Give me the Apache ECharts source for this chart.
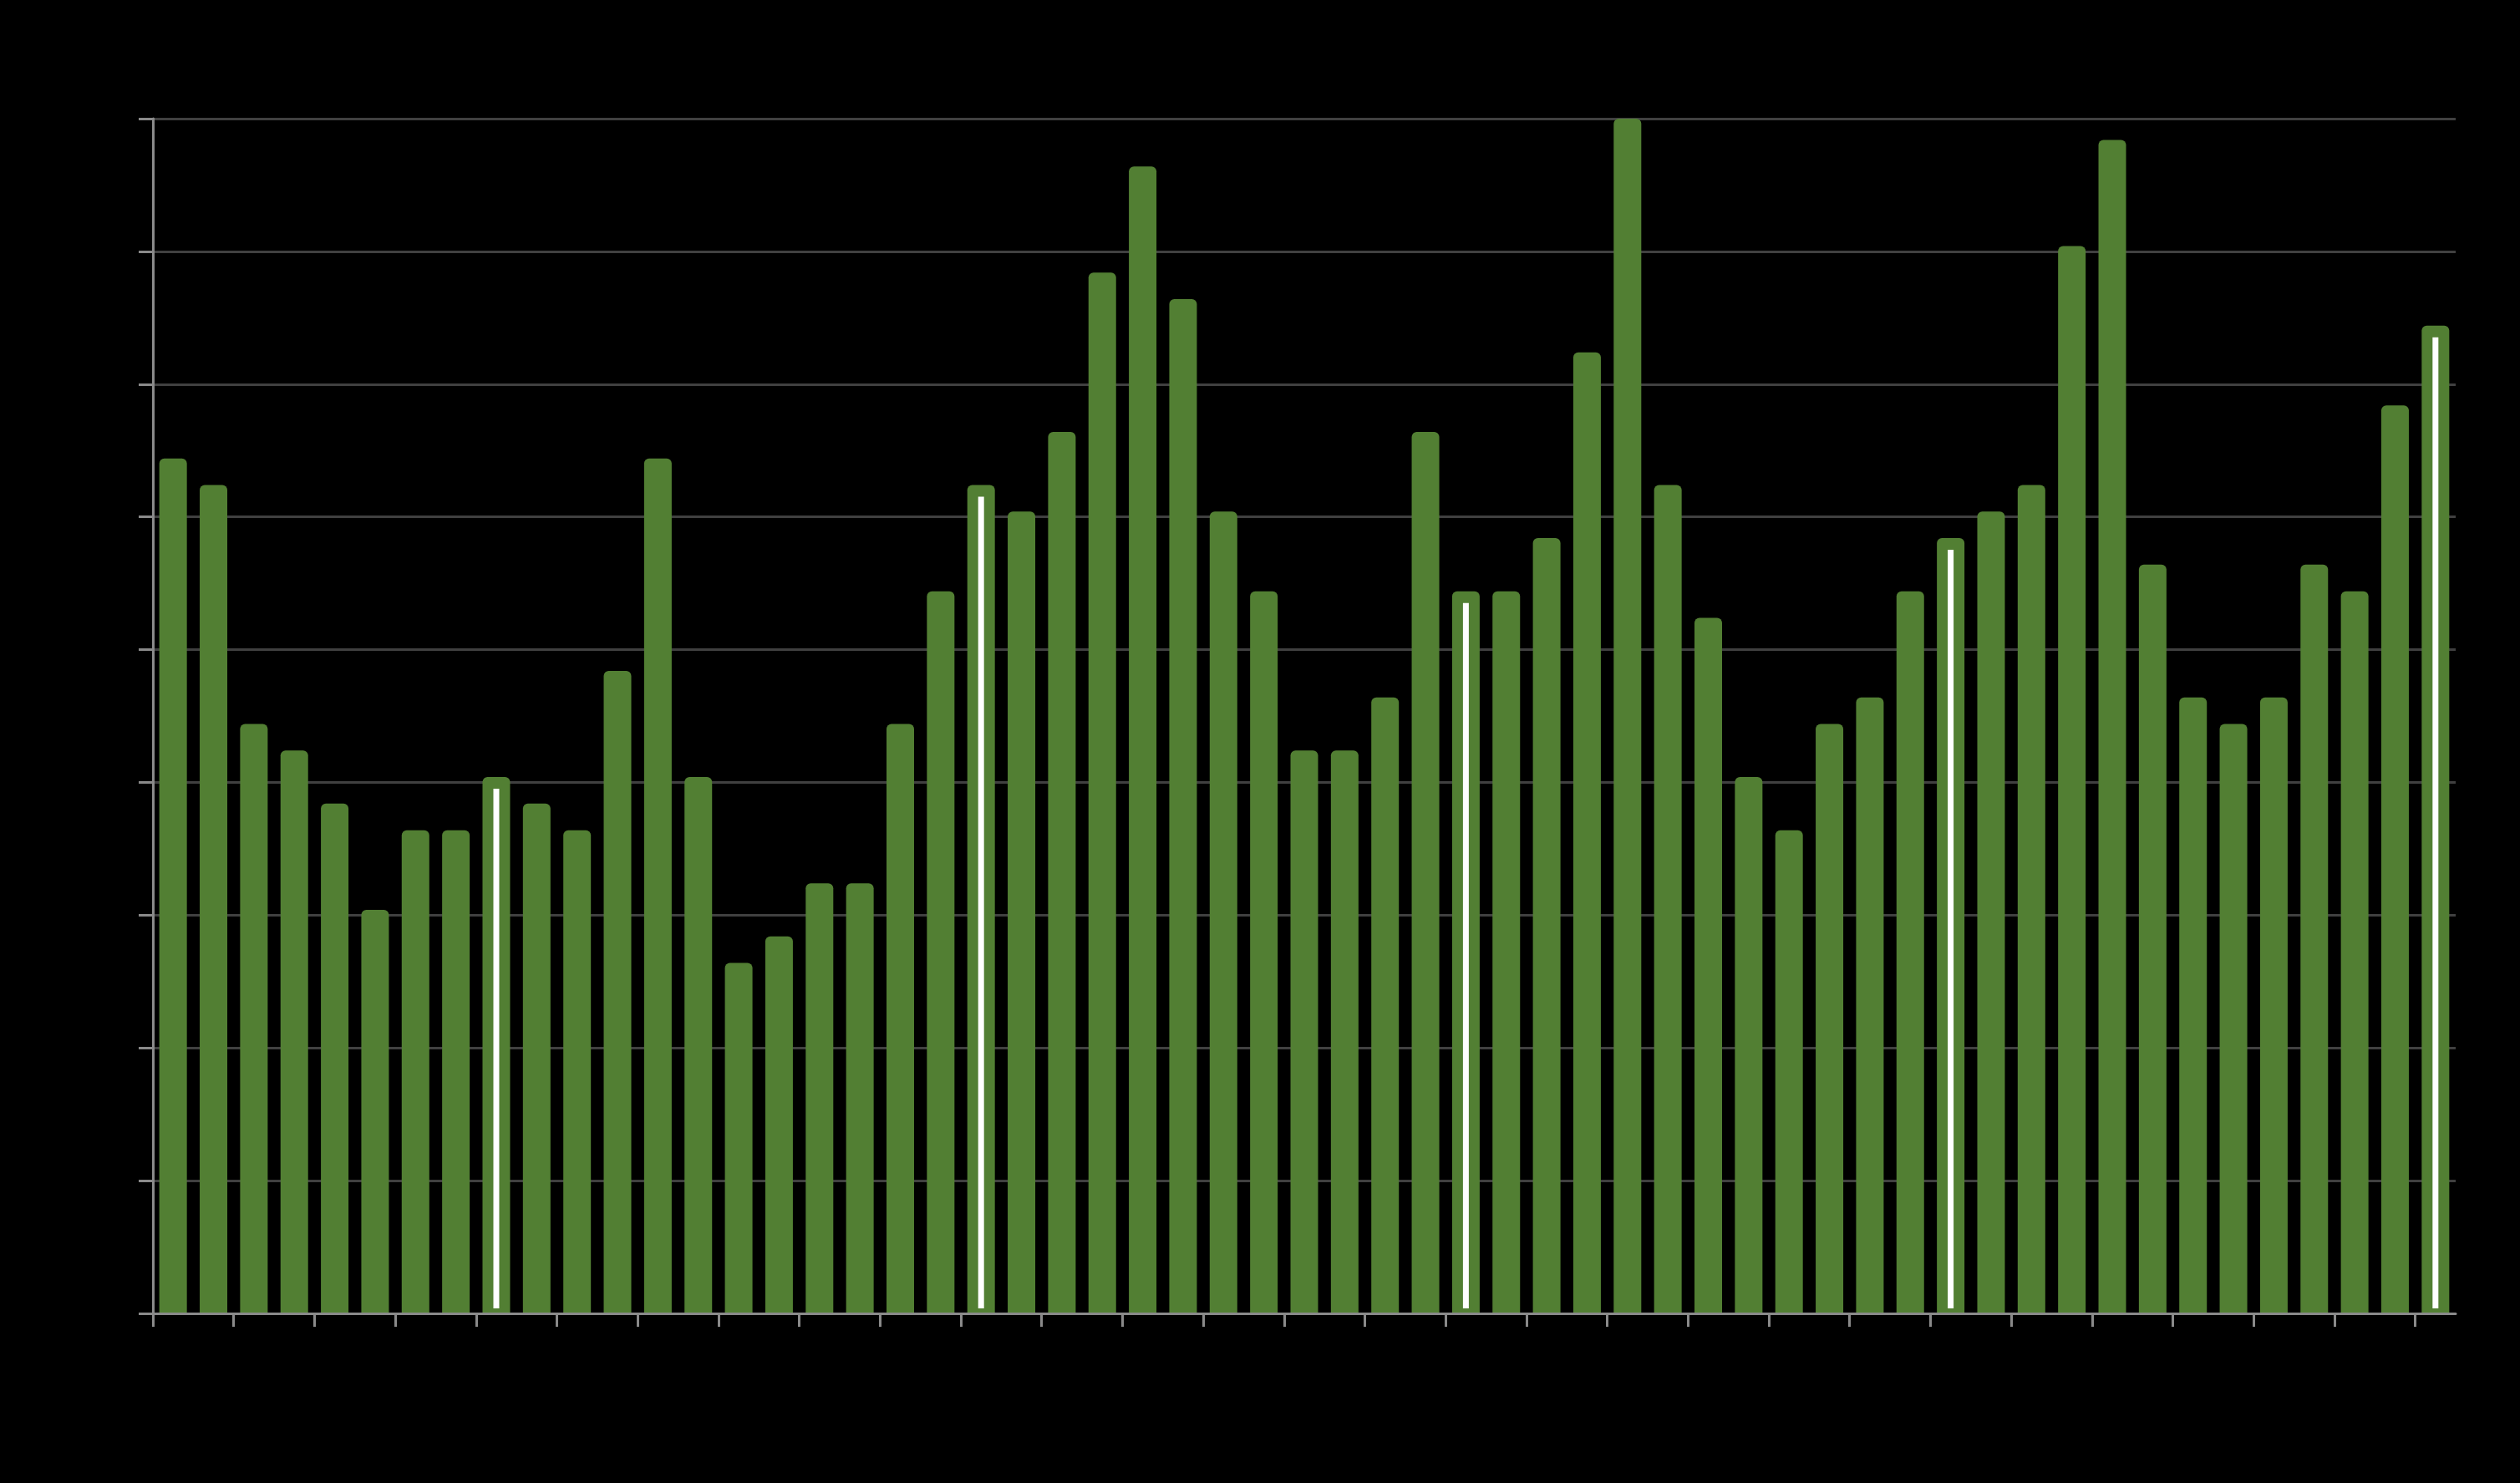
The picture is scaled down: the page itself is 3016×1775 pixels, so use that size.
<!DOCTYPE html>
<html>
<head>
<meta charset="utf-8">
<script src="https://cdn.jsdelivr.net/npm/echarts@6/dist/echarts.min.js"></script>
<style>
  html, body { margin: 0; padding: 0; background: #000; }
  #chart { width: 3016px; height: 1775px; }
</style>
</head>
<body>
<div id="chart"></div>
<script>
// Categories: 57 monthly periods (May 2019 – Jan 2024)
const categories = (function () {
  const out = [];
  const months = ['Jan','Feb','Mar','Apr','May','Jun','Jul','Aug','Sep','Oct','Nov','Dec'];
  let y = 2019, m = 4;
  for (let i = 0; i < 57; i++) {
    out.push(months[m] + ' ' + y);
    m++; if (m === 12) { m = 0; y++; }
  }
  return out;
})();

// values
const values = [
  32.2, 31.2, 22.2, 21.2, 19.2, 15.2, 18.2, 18.2, 20.2, 19.2,
  18.2, 24.2, 32.2, 20.2, 13.2, 14.2, 16.2, 16.2, 22.2, 27.2,
  31.2, 30.2, 33.2, 39.2, 43.2, 38.2, 30.2, 27.2, 21.2, 21.2,
  23.2, 33.2, 27.2, 27.2, 29.2, 36.2, 45.0, 31.2, 26.2, 20.2,
  18.2, 22.2, 23.2, 27.2, 29.2, 30.2, 31.2, 40.2, 44.2, 28.2,
  23.2, 22.2, 23.2, 28.2, 27.2, 34.2, 37.2
];

// Bars carrying a white marker line (every January)
const markedIndices = [8, 20, 32, 44, 56];

const yTicks = { min: 0, max: 45, interval: 5 };

// category boundaries (used only to place the tick marks between bars)
const boundaries = Array.from({ length: categories.length + 1 }, (_, i) => String(i));

const markerData = markedIndices.map(i => [i, values[i]]);

const GREEN = '#527f33';
const AXIS_GRAY = '#8a8a8a';

const chart = echarts.init(document.getElementById('chart'));
chart.setOption({
  backgroundColor: '#000000',
  animation: false,
  grid: { left: 183, right: 77, top: 142, bottom: 203, containLabel: false },
  xAxis: [
    {
      type: 'category',
      data: categories,
      boundaryGap: true,
      z: 10,
      axisLine: { show: true, lineStyle: { color: AXIS_GRAY, width: 3 } },
      axisTick: { show: false },
      axisLabel: { show: true, interval: 1, color: '#000000', fontSize: 24, fontFamily: 'Liberation Sans', margin: 24 },
      splitLine: { show: false }
    },
    {
      type: 'category',
      data: boundaries,
      boundaryGap: false,
      position: 'bottom',
      z: 10,
      axisLine: { show: false },
      axisTick: { show: true, interval: 1, length: 16, lineStyle: { color: AXIS_GRAY, width: 3 } },
      axisLabel: { show: false, showMinLabel: false, showMaxLabel: false },
      splitLine: { show: false }
    }
  ],
  yAxis: {
    type: 'value',
    min: yTicks.min,
    max: yTicks.max,
    interval: yTicks.interval,
    axisLine: { show: true, lineStyle: { color: AXIS_GRAY, width: 3 } },
    axisTick: { show: true, length: 17, lineStyle: { color: AXIS_GRAY, width: 3 } },
    axisLabel: { show: true, color: '#000000', fontSize: 26, fontFamily: 'Liberation Sans', margin: 26 },
    splitLine: { show: true, lineStyle: { color: '#404040', width: 3 } }
  },
  series: [
    {
      type: 'bar',
      data: values,
      xAxisIndex: 0,
      barWidth: 33,
      itemStyle: { color: GREEN, borderRadius: [6, 6, 0, 0] },
      z: 2
    },
    {
      type: 'custom',
      data: markerData,
      xAxisIndex: 0,
      z: 5,
      renderItem: function (params, api) {
        const top = api.coord([api.value(0), api.value(1)]);
        const base = api.coord([api.value(0), 0]);
        const y0 = top[1] + 14;
        const y1 = base[1] - 6;
        return {
          type: 'rect',
          shape: { x: top[0] - 3.5, y: y0, width: 7, height: y1 - y0 },
          style: { fill: '#ffffff' }
        };
      }
    }
  ]
});
</script>
</body>
</html>
